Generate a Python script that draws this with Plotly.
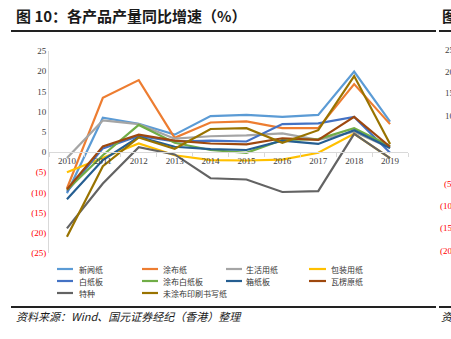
import plotly.graph_objects as go

# Production growth by paper product, % year over year
years = ["2010", "2011", "2012", "2013", "2014", "2015", "2016", "2017", "2018", "2019"]

names = ["新闻纸", "涂布纸", "生活用纸", "包装用纸",
         "白纸板", "涂布白纸板", "箱纸板", "瓦楞原纸",
         "特种", "未涂布印刷书写纸"]

colors = ["#5B9BD5", "#ED7D31", "#A5A5A5", "#FFC000",
          "#4472C4", "#70AD47", "#255E91", "#9E480E",
          "#636363", "#997300"]

newsprint      = [-10.2, 8.5, 7.0, 4.3, 8.9, 9.2, 8.7, 9.2, 19.9, 7.5]
coated         = [-9.0, 13.4, 17.8, 3.5, 7.3, 7.6, 5.9, 5.9, 16.8, 6.9]
tissue         = [-1.5, 7.8, 6.9, 3.3, 3.9, 4.1, 4.6, 3.0, 5.0, 1.0]
packaging      = [-5.0, -1.5, 2.1, -0.8, -2.0, -2.1, -1.9, -0.2, 4.5, -1.5]
whiteboard     = [-9.8, 0.9, 4.0, 2.6, 2.8, 2.6, 6.9, 7.1, 8.7, -0.2]
coated_board   = [-9.4, -0.8, 6.7, 2.3, 0.5, -0.2, 3.0, 3.2, 5.9, 1.5]
containerboard = [-11.7, -2.0, 3.7, 1.3, 0.7, 0.5, 2.8, 2.0, 5.4, 1.0]
corrugating    = [-9.3, 1.4, 4.3, 2.8, 2.1, 1.9, 3.4, 3.0, 8.7, 1.3]
specialty      = [-18.9, -7.8, 1.2, -0.6, -6.5, -6.8, -9.9, -9.7, 4.5, -1.5]
uncoated_ww    = [-21.0, -3.5, 3.6, 0.8, 5.7, 5.9, 2.3, 5.4, 18.8, 2.0]

series = [newsprint, coated, tissue, packaging,
          whiteboard, coated_board, containerboard, corrugating,
          specialty, uncoated_ww]

y_ticks = [-25, -20, -15, -10, -5, 0, 5, 10, 15, 20, 25]

W, H = 451, 339
PL, PR, PT, PB = 49, 408, 51, 253  # plot area edges in pixels


def px(x):
    return (x - PL) / (PR - PL)


def py(y):
    return (PB - y) / (PB - PT)


def tick_label(v):
    if v < 0:
        return f"<span style='color:#FF0000'>({-v})</span>"
    return str(v)


fig = go.Figure()
for name, color, vals in zip(names, colors, series):
    fig.add_trace(go.Scatter(
        x=years, y=vals, name=name, mode="lines",
        line=dict(color=color, width=2.2),
        showlegend=False,
    ))

fig.update_layout(
    width=W, height=H,
    margin=dict(l=PL, r=W - PR, t=PT, b=H - PB),
    paper_bgcolor="white", plot_bgcolor="white",
    font=dict(family="Liberation Serif", size=9, color="#404040"),
    xaxis=dict(
        type="category", categoryorder="array", categoryarray=years,
        range=[-0.5, 9.5], anchor="free", position=0.5,
        showline=True, linecolor="#D9D9D9", linewidth=1,
        ticks="outside", tickson="boundaries", ticklen=4, tickcolor="#D9D9D9",
        showgrid=False, zeroline=False,
        tickfont=dict(family="Liberation Serif", size=9, color="#404040"),
    ),
    yaxis=dict(
        range=[-25, 25], tickvals=y_ticks, ticktext=[tick_label(v) for v in y_ticks],
        showline=True, linecolor="#D9D9D9", linewidth=1,
        showgrid=False, zeroline=False, ticks="",
        tickfont=dict(family="Liberation Serif", size=9, color="#404040"),
    ),
)

# Legend drawn as short line samples with labels in four columns
leg_cols = [(57, 73, 77), (142, 158, 161), (226, 242, 244), (309, 326, 329)]
leg_rows = [269, 281, 293]
for i, (name, color) in enumerate(zip(names, colors)):
    r, c = divmod(i, 4)
    x0, x1, xt = leg_cols[c]
    yy = leg_rows[r]
    fig.add_shape(type="line", xref="paper", yref="paper",
                  x0=px(x0), x1=px(x1), y0=py(yy), y1=py(yy),
                  line=dict(color=color, width=2.2))
    fig.add_annotation(xref="paper", yref="paper", x=px(xt), y=py(yy),
                       text=name, showarrow=False, xanchor="left", yanchor="middle",
                       font=dict(family="Noto Sans CJK SC", size=8, color="#333333"))

# Title, rules and source note
fig.add_annotation(xref="paper", yref="paper", x=px(14), y=py(15),
                   text="<b>图 10：各产品产量同比增速（%）</b>", showarrow=False,
                   xanchor="left", yanchor="middle",
                   font=dict(family="Noto Sans CJK SC", size=15, color="#1a1a1a"))
fig.add_annotation(xref="paper", yref="paper", x=px(440), y=py(15),
                   text="<b>图</b>", showarrow=False, xanchor="left", yanchor="middle",
                   font=dict(family="Noto Sans CJK SC", size=15, color="#1a1a1a"))
for a, b in [(11, 436), (439, 452)]:
    fig.add_shape(type="line", xref="paper", yref="paper",
                  x0=px(a), x1=px(b), y0=py(31), y1=py(31),
                  line=dict(color="#222222", width=2))
    fig.add_shape(type="line", xref="paper", yref="paper",
                  x0=px(a), x1=px(b), y0=py(307), y1=py(307),
                  line=dict(color="#222222", width=2))
fig.add_annotation(xref="paper", yref="paper", x=px(14), y=py(316),
                   text="<i>资料来源：Wind、国元证券经纪（香港）整理</i>", showarrow=False,
                   xanchor="left", yanchor="middle",
                   font=dict(family="Noto Sans CJK SC", size=11, color="#1a1a1a"))
fig.add_annotation(xref="paper", yref="paper", x=px(439), y=py(316),
                   text="<i>资</i>", showarrow=False, xanchor="left", yanchor="middle",
                   font=dict(family="Noto Sans CJK SC", size=11, color="#1a1a1a"))

# Edge of the neighbouring chart's value axis
side_ticks = [(25, 50), (20, 72), (15, 93), (10, 116), (-5, 184), (-10, 206), (-15, 228), (-20, 251)]
for v, yy in side_ticks:
    fig.add_annotation(xref="paper", yref="paper", x=px(457), y=py(yy),
                       text=tick_label(v), showarrow=False,
                       xanchor="right", yanchor="middle",
                       font=dict(family="Liberation Serif", size=9, color="#404040"))

fig.write_html("out.html")
